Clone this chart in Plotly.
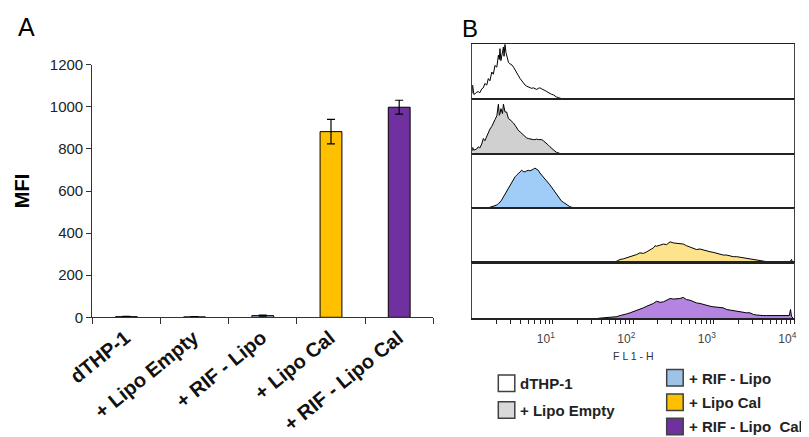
import plotly.graph_objects as go

# ---------------- Panel A data ----------------
groups = ["dTHP-1", "+ Lipo Empty", "+ RIF - Lipo", "+ Lipo Cal", "+ RIF - Lipo Cal"]
mfi = [3, 2, 8, 882, 998]
mfi_err = [1, 1, 3, 58, 33]
bar_colors = ["#ffffff", "#d9d9d9", "#9dc3e6", "#ffc000", "#7030a0"]
yticks_a = [0, 200, 400, 600, 800, 1000, 1200]

# ---------------- Panel B data (FL1-H channel 0..1023, counts scaled to 100) ----------------
ch_dthp = [0, 1, 5, 9, 14, 19, 24, 30, 35, 40, 46, 51, 56, 62, 67, 72, 78, 83, 86, 88, 91, 93, 96, 99,
           101, 104, 107, 109, 112, 115, 120, 126, 131, 136, 141, 147, 152, 157, 162, 168, 173, 178,
           184, 189, 194, 199, 205, 210, 215, 221, 226, 231, 237, 242, 247, 252, 258, 263, 268, 274, 279, 284]
cnt_dthp = [10, 25, 8, 9, 12, 13, 11, 18, 20, 28, 25, 37, 33, 49, 45, 61, 58, 80, 72, 92, 70, 77, 88, 95,
            78, 100, 85, 80, 72, 67, 64, 62, 58, 52, 46, 42, 37, 33, 28, 25, 23, 22,
            21, 19, 20, 18, 17, 19, 20, 18, 17, 15, 13, 11, 10, 8, 7, 4, 3, 2, 1, 0]

ch_empty = [0, 1, 5, 9, 14, 19, 24, 30, 35, 40, 46, 51, 56, 62, 67, 72, 78, 83, 86, 88, 91, 93, 96, 99,
            101, 104, 109, 115, 120, 125, 131, 136, 141, 146, 152, 157, 162, 168, 173, 178, 184, 189,
            194, 199, 205, 210, 215, 221, 226, 231, 237, 242, 247, 252, 258, 263, 268, 274, 279, 284]
cnt_empty = [5, 12, 7, 8, 9, 13, 11, 18, 28, 24, 33, 38, 45, 50, 55, 62, 69, 90, 70, 73, 82, 78, 73, 90,
             80, 76, 76, 64, 62, 60, 56, 52, 47, 43, 40, 37, 34, 31, 29, 28, 27, 27,
             26, 26, 27, 26, 26, 26, 24, 22, 19, 16, 13, 10, 7, 5, 3, 2, 1, 0]

ch_rif = [46, 51, 56, 62, 67, 72, 78, 83, 88, 93, 99, 104, 109, 115, 120, 125, 131, 136, 141, 146, 152,
          157, 162, 168, 173, 178, 184, 189, 194, 199, 205, 210, 215, 221, 226, 231, 237, 242, 247, 252,
          258, 263, 268, 274, 279, 284, 290, 295, 300, 305, 310, 316, 321, 327]
cnt_rif = [0, 1, 1, 2, 3, 4, 6, 9, 11, 15, 21, 27, 33, 39, 44, 48, 53, 58, 61, 64, 68,
           70, 68, 67, 69, 70, 69, 70, 72, 74, 71, 70, 65, 61, 58, 55, 51, 48, 43, 39,
           34, 30, 25, 21, 17, 13, 11, 9, 6, 4, 3, 2, 1, 0]

ch_cal = [200, 237, 260, 300, 321, 350, 380, 400, 420, 449, 460, 470, 480, 491, 502, 512, 523, 533, 544,
          555, 565, 576, 581, 586, 597, 608, 618, 629, 640, 650, 660, 671, 681, 692, 702, 713, 724, 735,
          745, 756, 766, 777, 788, 798, 809, 819, 830, 841, 851, 862, 872, 883, 894, 904, 915, 925, 936,
          947, 957, 968, 979, 989, 1000, 1010, 1015, 1020]
cnt_cal = [0, 1, 0, 1, 1, 0, 1, 1, 1, 2, 4, 7, 8, 10, 11, 13, 16, 19, 18,
           21, 24, 28, 32, 31, 33, 35, 34, 39, 37, 36, 35, 35, 32, 30, 28, 25, 26, 24,
           22, 21, 20, 18, 17, 15, 15, 13, 12, 12, 11, 10, 9, 7, 6, 5, 4, 4, 3,
           3, 2, 2, 2, 2, 2, 2, 7, 0]

ch_rifcal = [400, 427, 449, 460, 470, 481, 491, 502, 512, 523, 533, 544, 555, 565, 576, 586, 597, 608, 618,
             629, 640, 650, 660, 671, 681, 692, 702, 713, 724, 735, 745, 756, 766, 777, 788, 798, 809, 819,
             830, 841, 851, 862, 872, 883, 894, 904, 915, 925, 936, 947, 957, 968, 979, 989, 1000, 1008,
             1012, 1015, 1020]
cnt_rifcal = [0, 1, 2, 3, 5, 6, 8, 10, 12, 14, 16, 19, 22, 24, 27, 31, 29, 30, 33,
              36, 35, 35, 36, 38, 34, 33, 30, 28, 27, 25, 23, 22, 21, 20, 19, 19, 16, 15,
              13, 12, 11, 10, 10, 10, 7, 6, 5, 5, 5, 5, 4, 4, 4, 4, 4, 5,
              16, 4, 0]

hist_names = ["dTHP-1", "+ Lipo Empty", "+ RIF - Lipo", "+ Lipo Cal", "+ RIF - Lipo  Cal"]
hist_fills = ["#ffffff", "#d0d0d0", "#a0cdf7", "#fde48c", "#b583e0"]
hist_channels = [ch_dthp, ch_empty, ch_rif, ch_cal, ch_rifcal]
hist_counts = [cnt_dthp, cnt_empty, cnt_rif, cnt_cal, cnt_rifcal]
fl1_ticks = [10, 100, 1000, 10000]
fl1_ticktext = ["10<sup>1</sup>", "10<sup>2</sup>", "10<sup>3</sup>", "10<sup>4</sup>"]
fl1_minor = [2, 3, 4, 5, 6, 7, 8, 9, 20, 30, 40, 50, 60, 70, 80, 90,
             200, 300, 400, 500, 600, 700, 800, 900, 2000, 3000, 4000, 5000, 6000, 7000, 8000, 9000]

# ---------------- Figure ----------------
# The page places the figure 8 px from the top-left corner of the window.
OFF = 8
FW, FH = 801, 429
FONT = "Liberation Sans, Arial"


def xp(px):
    return (px - OFF) / FW


def yp(py):
    return 1 - (py - OFF) / FH


fig = go.Figure()

fig.add_trace(go.Bar(
    x=groups, y=mfi,
    error_y=dict(type="data", array=mfi_err, color="#000000", thickness=1.2, width=4),
    marker=dict(color=bar_colors, line=dict(color="#000000", width=1)),
    width=0.32, showlegend=False, xaxis="x", yaxis="y",
))

row_edges_px = [44.3, 98.7, 154.0, 208.3, 263.3, 318.3]

for i in range(5):
    ax_n = i + 2
    fl1 = [10 ** (c / 256.0) for c in hist_channels[i]]
    fig.add_trace(go.Scatter(
        x=fl1, y=hist_counts[i], mode="lines", fill="tozeroy",
        fillcolor=hist_fills[i], line=dict(color="#000000", width=1),
        showlegend=False, xaxis=f"x{ax_n}", yaxis=f"y{ax_n}", hoverinfo="skip",
    ))
    is_bottom = i == 4
    xa = dict(
        type="log", range=[0, 4], domain=[xp(472.3), xp(794.3)], anchor=f"y{ax_n}", automargin=False,
        showline=True, linecolor="#222222", linewidth=1.2 if not is_bottom else 2,
        mirror=True, showgrid=False, zeroline=False,
    )
    if is_bottom:
        xa.update(tickmode="array", tickvals=fl1_ticks, ticktext=fl1_ticktext,
                  ticks="outside", ticklen=4, tickcolor="#222222", tickwidth=1, showticklabels=True,
                  minor=dict(tickmode="array", tickvals=fl1_minor, ticks="outside", ticklen=4,
                             tickcolor="#222222", tickwidth=1, showgrid=False),
                  tickfont=dict(family=FONT, size=12, color="#444444"),
                  ticklabelshift=-7, ticklabelstandoff=4,
                  title=dict(text="F L 1 - H", font=dict(family=FONT, size=10.5, color="#333333"), standoff=8))
    else:
        xa.update(showticklabels=False, ticks="")
    ya = dict(
        range=[0, 100], domain=[yp(row_edges_px[i + 1]), yp(row_edges_px[i])],
        anchor=f"x{ax_n}", showline=True, linecolor="#444444", linewidth=1, mirror=True,
        showticklabels=False, ticks="", showgrid=False, zeroline=False, automargin=False,
    )
    fig.layout[f"xaxis{ax_n}"] = xa
    fig.layout[f"yaxis{ax_n}"] = ya

fig.update_layout(
    width=FW, height=FH,
    margin=dict(l=0, r=0, t=0, b=0),
    paper_bgcolor="#ffffff", plot_bgcolor="rgba(0,0,0,0)",
    font=dict(family=FONT, color="#222222"),
    xaxis=dict(
        domain=[xp(92.3), xp(433.3)], anchor="y", type="category", range=[-0.5, 4.5], automargin=False,
        showline=True, linecolor="#333333", linewidth=1.2, ticks="outside", tickson="boundaries",
        ticklen=6, tickcolor="#333333", tickangle=-39, showgrid=False,
        ticklabelshift=-1, ticklabelstandoff=0,
        tickfont=dict(family=FONT, size=20, color="#111111", weight="bold"),
    ),
    yaxis=dict(
        domain=[yp(317.3), yp(64.7)], anchor="x", range=[0, 1200], automargin=False,
        tickmode="array", tickvals=yticks_a,
        showline=True, linecolor="#333333", linewidth=1.2, ticks="outside", ticklen=5,
        tickcolor="#333333", showgrid=False, zeroline=False,
        tickfont=dict(family=FONT, size=15, color="#222222"),
        title=dict(text="MFI", font=dict(family=FONT, size=20, color="#000000", weight="bold"), standoff=14),
    ),
    bargap=0.68,
)

fig.add_annotation(text="A", x=xp(26.5), y=yp(27), xref="paper", yref="paper", showarrow=False,
                   xanchor="center", yanchor="middle",
                   font=dict(family=FONT, size=25, color="#000000"))
fig.add_annotation(text="B", x=xp(470), y=yp(28.5), xref="paper", yref="paper", showarrow=False,
                   xanchor="center", yanchor="middle",
                   font=dict(family=FONT, size=24, color="#000000"))

legend_items = [
    (hist_names[0], bar_colors[0], 498.3, 375.0),
    (hist_names[1], bar_colors[1], 498.3, 401.7),
    (hist_names[2], bar_colors[2], 666.7, 369.5),
    (hist_names[3], bar_colors[3], 666.7, 394.0),
    (hist_names[4], bar_colors[4], 666.7, 418.3),
]
for name, col, lx, ly in legend_items:
    fig.add_shape(type="rect", xref="paper", yref="paper",
                  x0=xp(lx), x1=xp(lx + 16.5), y0=yp(ly + 16.5), y1=yp(ly),
                  line=dict(color="#404040", width=1.5), fillcolor=col)
    fig.add_annotation(text=name, x=xp(lx + 20), y=yp(ly + 8.5), xref="paper", yref="paper",
                       xanchor="left", yanchor="middle", showarrow=False,
                       font=dict(family=FONT, size=15, color="#222222", weight="bold"))

fig.write_html("out.html")
